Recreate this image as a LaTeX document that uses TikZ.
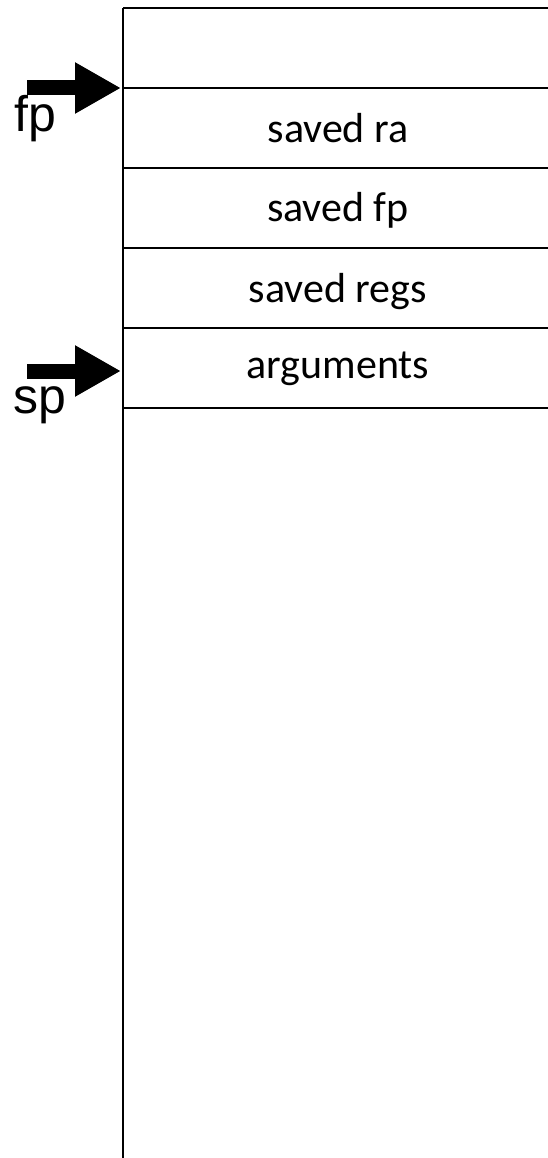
\documentclass[tikz,border=0pt]{standalone}
\usepackage{fontspec}
\setmainfont{Carlito}
\newfontfamily\arialfont{Liberation Sans}
\usetikzlibrary{arrows.meta}
\begin{document}
\begin{tikzpicture}[x=1pt,y=-1pt,
  rule/.style={line width=2pt},
  celltext/.style={font=\fontsize{42}{50}\selectfont, anchor=base, inner sep=0pt},
  ptrtext/.style={font=\arialfont\fontsize{50}{60}\selectfont, anchor=base west, inner sep=0pt},
  ptr/.style={line width=15pt, -{Triangle[length=46pt,width=48pt]}}]
\useasboundingbox (0,0) rectangle (548,1158);
% frame
\coordinate (vtop) at (123,8);
\coordinate (vbot) at (123,1160);
\draw[rule] (vtop) -- (vbot);
\foreach \i/\y in {0/8,1/88,2/168,3/248,4/328,5/408}{
  \coordinate (l\i) at (123,\y);
  \coordinate (r\i) at (550,\y);
  \draw[rule] (l\i) -- (r\i);
}
% cell labels
\node[celltext] (ra)   at (338,143) {saved ra};
\node[celltext] (sfp)  at (338,222) {saved fp};
\node[celltext] (regs) at (338,302) {saved regs};
\node[celltext] (args) at (338,378) {arguments};
% pointers
\coordinate (fptail) at (27,88);
\coordinate (fptip)  at (121,88);
\coordinate (sptail) at (27,371);
\coordinate (sptip)  at (121,371);
\node[ptrtext] (fp) at (14.5,132) {fp};
\node[ptrtext] (sp) at (13.5,413) {sp};
\draw[ptr] (fptail) -- (fptip);
\draw[ptr] (sptail) -- (sptip);
\end{tikzpicture}
\end{document}
